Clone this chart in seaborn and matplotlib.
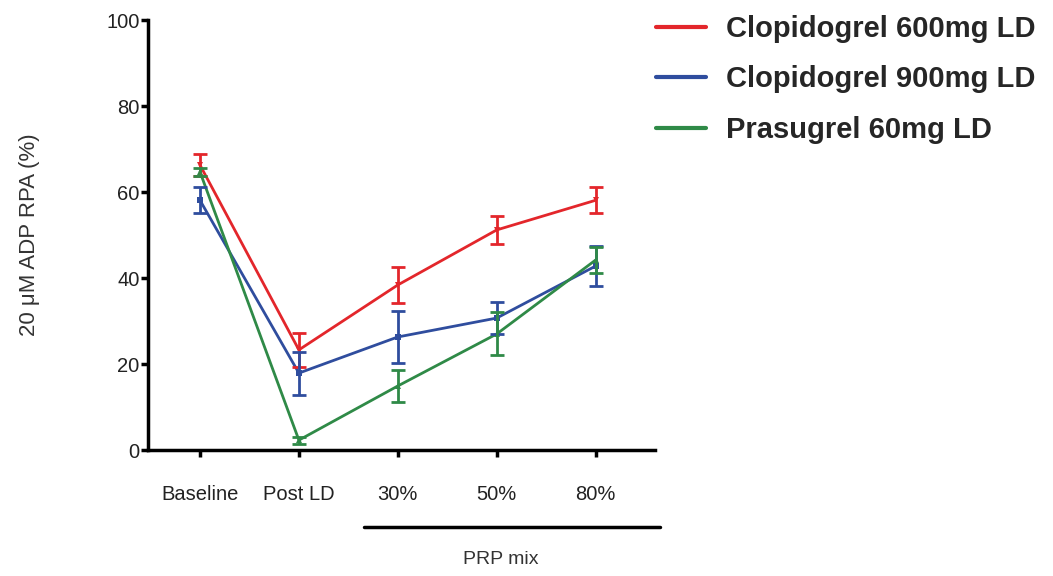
import matplotlib
matplotlib.use("Agg")
import matplotlib.pyplot as plt
import seaborn as sns
import pandas as pd

timepoints = ["Baseline", "Post LD", "30%", "50%", "80%"]
groups = ["Clopidogrel 600mg LD", "Clopidogrel 900mg LD", "Prasugrel 60mg LD"]

rpa_600 = [66.3, 23.3, 38.4, 51.2, 58.1]
sem_600 = [2.5, 4.0, 4.2, 3.2, 3.0]
rpa_900 = [58.1, 17.9, 26.3, 30.7, 42.8]
sem_900 = [3.0, 5.0, 6.0, 3.8, 4.6]
rpa_pra = [64.7, 2.3, 14.9, 27.0, 44.2]
sem_pra = [1.0, 0.8, 3.8, 5.0, 3.0]

colors = ["#e3262b", "#2f4d9e", "#2f8a47"]
markers = ["v", "s", "^"]

rows = []
for g, vals, errs in zip(groups, [rpa_600, rpa_900, rpa_pra], [sem_600, sem_900, sem_pra]):
    for i, (t, v, e) in enumerate(zip(timepoints, vals, errs)):
        rows.append({"group": g, "time": t, "pos": i, "rpa": v, "sem": e})
df = pd.DataFrame(rows)

sns.set_style("ticks")
plt.rcParams["font.family"] = ["Liberation Sans", "DejaVu Sans"]

fig = plt.figure(figsize=(10.53, 5.76), dpi=100)
ax = fig.add_axes([0.1406, 0.2187, 0.4814, 0.7463])

sns.lineplot(data=df, x="pos", y="rpa", hue="group", hue_order=groups,
             palette=colors, style="group", markers=markers, dashes=False,
             markersize=5, markeredgewidth=0, linewidth=2, ax=ax, legend=False)

for g, c in zip(groups, colors):
    sub = df[df["group"] == g]
    ax.errorbar(sub["pos"], sub["rpa"], yerr=sub["sem"], fmt="none",
                ecolor=c, elinewidth=2, capsize=5, capthick=2)

ax.set_xlim(-0.525, 4.6)
ax.set_ylim(0, 100)
ax.set_yticks([0, 20, 40, 60, 80, 100])
ax.set_xticks(range(len(timepoints)))
ax.set_xticklabels(timepoints)
ax.tick_params(axis="both", labelsize=14.5, width=2.5, length=5, color="black",
               labelcolor="#222222")
ax.tick_params(axis="x", pad=20)
ax.tick_params(axis="y", pad=1)
ax.set_xlabel("")
ax.set_ylabel("20 \u03bcM ADP RPA (%)", fontsize=16, labelpad=48, color="#333333")
for s in ["left", "bottom"]:
    ax.spines[s].set_linewidth(2.5)
    ax.spines[s].set_color("black")
sns.despine(ax=ax)

# PRP mix bracket
fig.add_artist(plt.Line2D([364 / 1053, 660 / 1053], [1 - 527 / 576, 1 - 527 / 576],
                          color="black", linewidth=2.5))
fig.text(501 / 1053, 1 - 560 / 576, "PRP mix", ha="center", va="center", fontsize=14,
         color="#333333")

handles = [plt.Line2D([], [], color=c, linewidth=3) for c in colors]
fig.legend(handles, groups, loc="upper left", bbox_to_anchor=(0.598, 1.02),
           frameon=False, prop={"weight": "bold", "size": 21},
           handlelength=1.7, handletextpad=0.7, labelspacing=0.78)

fig.savefig("out.png", dpi=100)
